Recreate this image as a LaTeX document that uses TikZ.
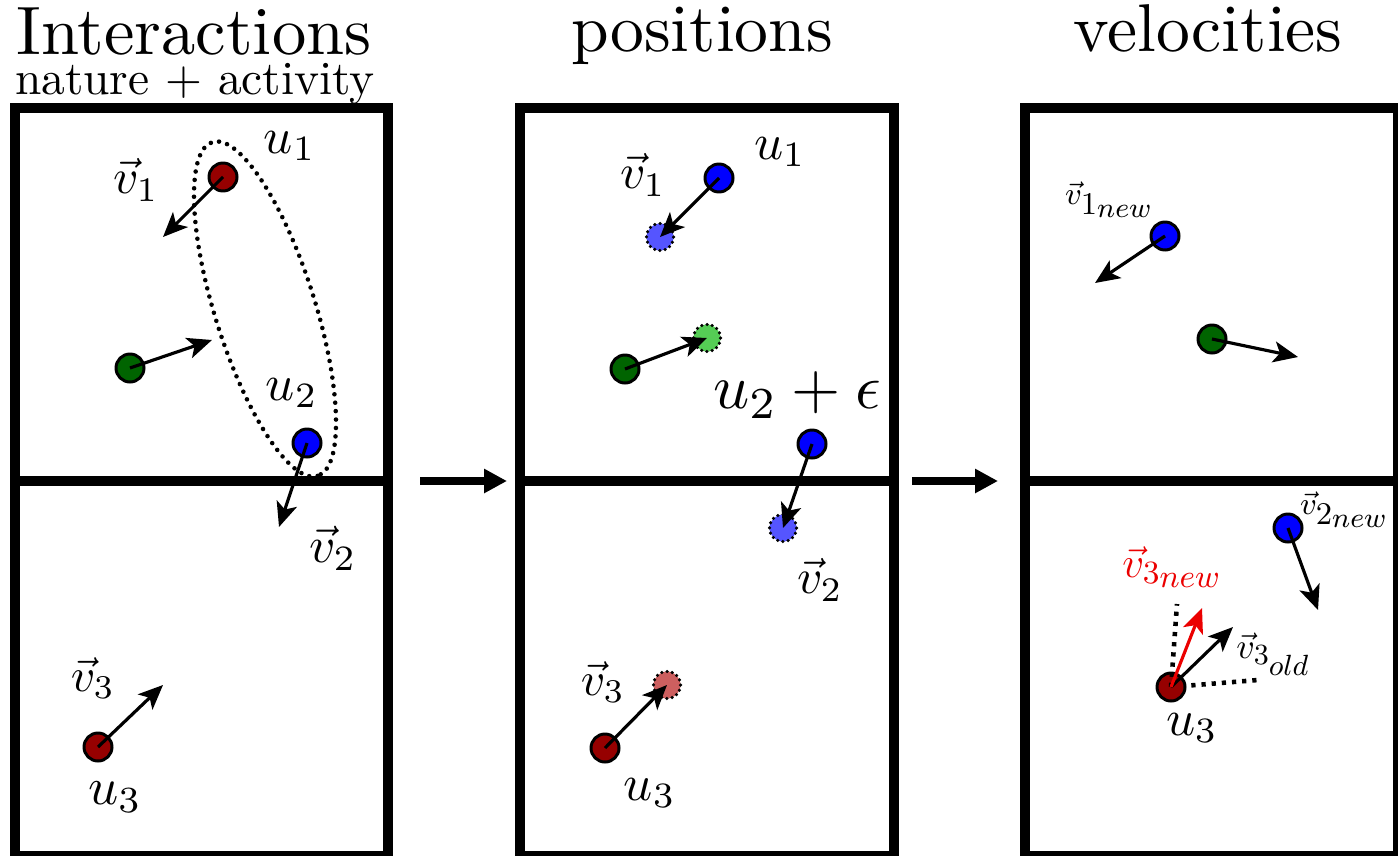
\documentclass[tikz,border=0pt]{standalone}
\usepackage{fix-cm}
\usetikzlibrary{arrows.meta}
\DeclareMathSizes{9}{9}{9}{8}
\DeclareMathSizes{11}{11}{9}{9}
\DeclareMathSizes{12}{12}{9}{9}
\definecolor{pred}{RGB}{150,0,0}
\definecolor{pgreen}{RGB}{0,100,0}
\definecolor{pblue}{RGB}{0,0,255}
\definecolor{gred}{RGB}{205,95,95}
\definecolor{ggreen}{RGB}{85,205,85}
\definecolor{gblue}{RGB}{85,85,255}
\definecolor{vred}{RGB}{235,0,0}
\newcommand\scl[2]{\scalebox{#1}{#2}}
\tikzset{
  panel/.style={line width=5.7pt, line join=miter},
  part/.style={circle, draw=black, line width=1.7pt, minimum size=0.56cm, inner sep=0pt},
  ghost/.style={circle, draw=black, line width=2pt, dash pattern=on 0pt off 3pt, line cap=round, minimum size=0.54cm, inner sep=0pt},
  vecarrow/.style={line width=1.8pt, -{Stealth[length=14pt,width=12pt,inset=3.5pt]}},
  bigarrow/.style={line width=4.5pt, -{Triangle[length=13pt,width=13pt]}},
  dotline/.style={line width=2.6pt, dash pattern=on 0pt off 4.8pt, line cap=round},
  bigdots/.style={line width=2.6pt, dash pattern=on 2.4pt off 3.4pt, line cap=butt},
  lab/.style={inner sep=0pt},
  hdr/.style={inner sep=0pt, anchor=base},
}
\begin{document}
\begin{tikzpicture}[x=0.02cm, y=-0.02cm]
\useasboundingbox (0,0) rectangle (1398,855);
\clip (0,0) rectangle (1398,855);
% headers
\node[hdr] (h1) at (194,55) {\scl{3.9}{Interactions}};
\node[hdr] (h1b) at (195,94) {\scl{2.7}{nature + activity}};
\node[hdr] (h2) at (702,52) {\scl{3.85}{positions}};
\node[hdr] (h3) at (1208,52) {\scl{3.85}{velocities}};
% panels
\foreach \xa/\xb in {15/388, 520/894, 1025/1398}{
  \draw[panel] (\xa,108) rectangle (\xb,856);
  \draw[panel] (\xa,481) -- (\xb,481);
}
% arrows between panels
\coordinate (a1s) at (420,481); \coordinate (a1e) at (507,481);
\coordinate (a2s) at (912,481); \coordinate (a2e) at (998,481);
\draw[bigarrow] (a1s) -- (a1e);
\draw[bigarrow] (a2s) -- (a2e);

% ---------- left panel ----------
\draw[dotline, rotate around={-72.5:(265,309)}] (265,309) ellipse [x radius=175, y radius=50];
\node[part, fill=pred] (L1) at (223,177) {};
\node[part, fill=pgreen] (L2) at (130,368) {};
\node[part, fill=pblue] (L3) at (307,443) {};
\node[part, fill=pred] (L4) at (98,747) {};
\coordinate (L1t) at (163,237);
\coordinate (L2t) at (212,340);
\coordinate (L3t) at (279,527);
\coordinate (L4t) at (163,685);
\draw[vecarrow] (L1.center) -- (L1t);
\draw[vecarrow] (L2.center) -- (L2t);
\draw[vecarrow] (L3.center) -- (L3t);
\draw[vecarrow] (L4.center) -- (L4t);
\node[lab] (lv1) at (136,180) {\scl{2.8}{$\vec{v}_1$}};
\node[lab] (lu1) at (290,146) {\scl{2.9}{$u_1$}};
\node[lab] (lu2) at (292,393) {\scl{2.9}{$u_2$}};
\node[lab] (lv2) at (333,548) {\scl{2.9}{$\vec{v}_2$}};
\node[lab] (lv3) at (93,678) {\scl{2.7}{$\vec{v}_3$}};
\node[lab] (lu3) at (115,797) {\scl{3}{$u_3$}};

% ---------- middle panel ----------
\node[part, fill=pblue] (M1) at (719,178) {};
\node[part, fill=pgreen] (M2) at (625,369) {};
\node[part, fill=pblue] (M3) at (812,444) {};
\node[part, fill=pred] (M4) at (605,748) {};
\node[ghost, fill=gblue] (M1g) at (660,237) {};
\node[ghost, fill=ggreen] (M2g) at (707,338) {};
\node[ghost, fill=gblue] (M3g) at (783,528) {};
\node[ghost, fill=gred] (M4g) at (667,685) {};
\draw[vecarrow] (M1.center) -- (M1g.center);
\draw[vecarrow] (M2.center) -- (M2g.center);
\draw[vecarrow] (M3.center) -- (M3g.center);
\draw[vecarrow] (M4.center) -- (M4g.center);
\node[lab] (mv1) at (643,175) {\scl{2.8}{$\vec{v}_1$}};
\node[lab] (mu1) at (780,152) {\scl{2.9}{$u_1$}};
\node[lab] (mu2) at (797,395) {\scl{3.6}{$u_2+\epsilon$}};
\node[lab] (mv2) at (820,580) {\scl{2.8}{$\vec{v}_2$}};
\node[lab] (mv3) at (603,682) {\scl{2.7}{$\vec{v}_3$}};
\node[lab] (mu3) at (650,793) {\scl{2.9}{$u_3$}};

% ---------- right panel ----------
\coordinate (R4v) at (1177,604);
\coordinate (R4h) at (1258,680);
\node[part, fill=pblue] (R1) at (1165,236) {};
\node[part, fill=pgreen] (R2) at (1212,339) {};
\node[part, fill=pblue] (R3) at (1288,528) {};
\coordinate (R4c) at (1171,687);
\draw[bigdots] (R4c) -- (R4h);
\node[part, fill=pred] (R4) at (R4c) {};
\draw[bigdots] (R4.center) -- (R4v);
\coordinate (R1t) at (1095,283);
\coordinate (R2t) at (1298,357);
\coordinate (R3t) at (1318,610);
\coordinate (R4t) at (1233,627);
\coordinate (R4n) at (1202,608);
\draw[vecarrow] (R1.center) -- (R1t);
\draw[vecarrow] (R2.center) -- (R2t);
\draw[vecarrow] (R3.center) -- (R3t);
\draw[vecarrow] (R4.center) -- (R4t);
\draw[vecarrow, vred] (R4.center) -- (R4n);
\node[lab] (rv1) at (1110,200) {\scl{2}{\fontsize{9}{10}\selectfont$\vec{v}_{1_{new}}$}};
\node[lab] (rv2) at (1345,510) {\scl{2}{\fontsize{9}{10}\selectfont$\vec{v}_{2_{new}}$}};
\node[lab, text=vred] (rv3n) at (1173,567) {\scl{2.05}{\fontsize{12}{13}\selectfont$\vec{v}_{3_{new}}$}};
\node[lab] (rv3o) at (1274,654) {\scl{1.85}{\fontsize{11}{12}\selectfont$\vec{v}_{3_{old}}$}};
\node[lab] (ru3) at (1192,728) {\scl{2.9}{$u_3$}};
\end{tikzpicture}
\end{document}
